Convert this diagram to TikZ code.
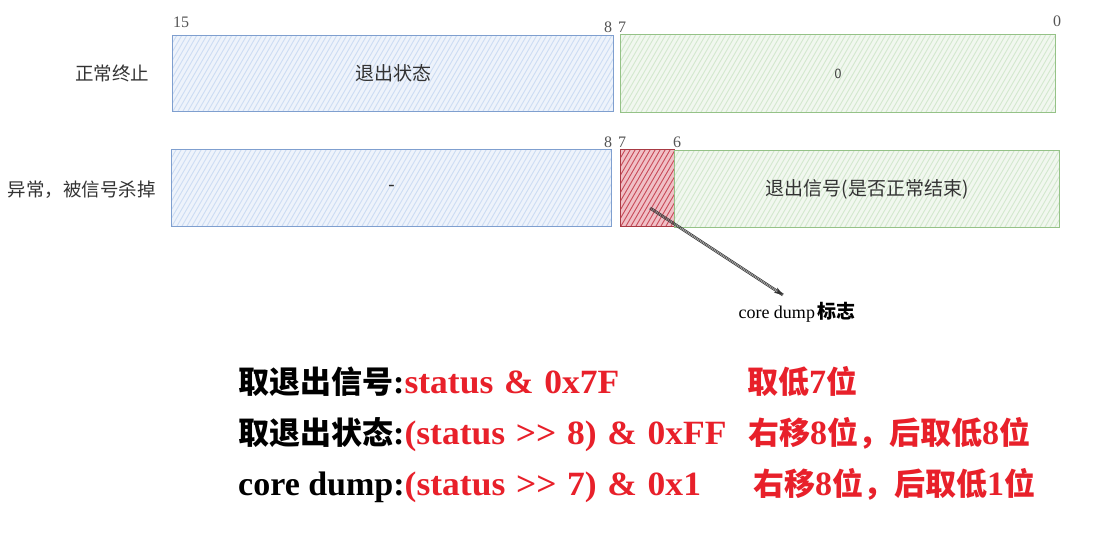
\documentclass[tikz,border=0pt]{standalone}
\usepackage{fontspec}
\setmainfont{Liberation Serif}
\newfontfamily\serb{Liberation Serif}[FakeStretch=1.045, WordSpace=1.2]
\newfontfamily\cjk{Noto Sans CJK SC}
\usetikzlibrary{arrows.meta}
\definecolor{bluedraw}{HTML}{7F9FCF}
\definecolor{bluefill}{HTML}{EEF3FB}
\definecolor{bluehatch}{HTML}{CCDCF3}
\definecolor{greendraw}{HTML}{95C287}
\definecolor{greenfill}{HTML}{F1F7EF}
\definecolor{greenhatch}{HTML}{D3E8CE}
\definecolor{reddraw}{HTML}{A83A44}
\definecolor{redfill}{HTML}{F0C0C6}
\definecolor{redhatch}{HTML}{C84A58}
\definecolor{txtgray}{HTML}{333333}
\definecolor{numgray}{HTML}{555555}
\definecolor{tred}{HTML}{E8202A}
\newcommand\zhb[1]{{\cjk\bfseries\fontsize{31}{31}\selectfont #1}}
\newcommand\enb[1]{{\rmfamily\bfseries\fontsize{34}{34}\selectfont #1}}
\newcommand\enr[1]{{\serb\bfseries\fontsize{34}{34}\selectfont #1}}
\begin{document}
\begin{tikzpicture}[x=1pt,y=-1pt,
  hatch/.style={path picture={
    \foreach \k in {-60,-55,...,450}{
      \draw[#1,line width=0.9pt] ([xshift=\k pt]path picture bounding box.south west) -- ++(55pt,95pt);
    }}},
  cellbase/.style={line width=1.3pt, inner sep=0pt, anchor=north west,
    font=\cjk\fontsize{19}{19}\selectfont, text=txtgray},
  bluecell/.style={cellbase, draw=bluedraw, fill=bluefill, hatch=bluehatch},
  greencell/.style={cellbase, draw=greendraw, fill=greenfill, hatch=greenhatch},
  redcell/.style={cellbase, draw=reddraw, fill=redfill, hatch=redhatch},
  num/.style={inner sep=0pt, text=numgray, font=\fontsize{16}{16}\selectfont},
  rowlbl/.style={inner sep=0pt, text=txtgray, font=\cjk\fontsize{18.5}{18.5}\selectfont},
  line/.style={inner sep=0pt, anchor=base west}
]
\useasboundingbox (0,0) rectangle (1093,537);
\fill[white] (0,0) rectangle (1093,537);

% row 1
\node[rowlbl] (lab1) at (112,73) {正常终止};
\node[bluecell, minimum width=441pt, minimum height=76pt] (a1) at (172,35) {退出状态};
\node[greencell, minimum width=435pt, minimum height=78pt] (a2) at (620,34) {\sffamily\fontsize{14}{14}\selectfont 0};
\node[num] (n15) at (181,22) {15};
\node[num] (n8a) at (608,27) {8};
\node[num] (n7a) at (622,27) {7};
\node[num] (n0a) at (1057,21) {0};

% row 2
\node[rowlbl] (lab2) at (82,190) {异常，被信号杀掉};
\node[bluecell, minimum width=440pt, minimum height=77pt] (b1) at (171,149) {\rmfamily -};
\node[redcell, minimum width=54pt, minimum height=77pt] (rb) at (620,149) {};
\node[greencell, minimum width=385pt, minimum height=77pt] (b2) at (674,150) {退出信号(是否正常结束)};
\node[num] (n8b) at (608,142) {8};
\node[num] (n7b) at (622,142) {7};
\node[num] (n6b) at (677,142) {6};

% core dump arrow
\coordinate (cds) at (650,208);
\coordinate (cde) at (783,295);
\node[inner sep=0pt] (cdl) at (797,312) {{\fontsize{18}{18}\selectfont core dump} {\cjk\bfseries\fontsize{19}{19}\selectfont 标志}};
\draw[black!75, line width=0.7pt] ([shift={(0.6pt,0.9pt)}]cds) -- ([shift={(0.6pt,0.9pt)}]cde);
\draw[black!75, line width=0.7pt] ([shift={(-0.6pt,-0.9pt)}]cds) -- ([shift={(-0.6pt,-0.9pt)}]cde);
\draw[black!80, line width=0.5pt, -{Stealth[length=9pt,width=6pt]}] (cds) -- (cde);

% bottom lines
\node[line] (l1) at (238,393) {\zhb{取退出信号}\enb{:}\textcolor{tred}{\enr{status \& 0x7F}}};
\node[line] (l2) at (238,444) {\zhb{取退出状态}\enb{:}\textcolor{tred}{\enr{(status >\kern0pt> 8) \& 0xFF}}};
\node[line] (l3) at (238,495) {\enb{core dump:}\textcolor{tred}{\enr{(status >\kern0pt> 7) \& 0x1}}};
\node[line, text=tred] (r1) at (747,393) {\zhb{取低}\enb{7}\zhb{位}};
\node[line, text=tred] (r2) at (748,444) {\zhb{右移}\enb{8}\zhb{位，后取低}\enb{8}\zhb{位}};
\node[line, text=tred] (r3) at (753,495) {\zhb{右移}\enb{8}\zhb{位，后取低}\enb{1}\zhb{位}};
\end{tikzpicture}
\end{document}
